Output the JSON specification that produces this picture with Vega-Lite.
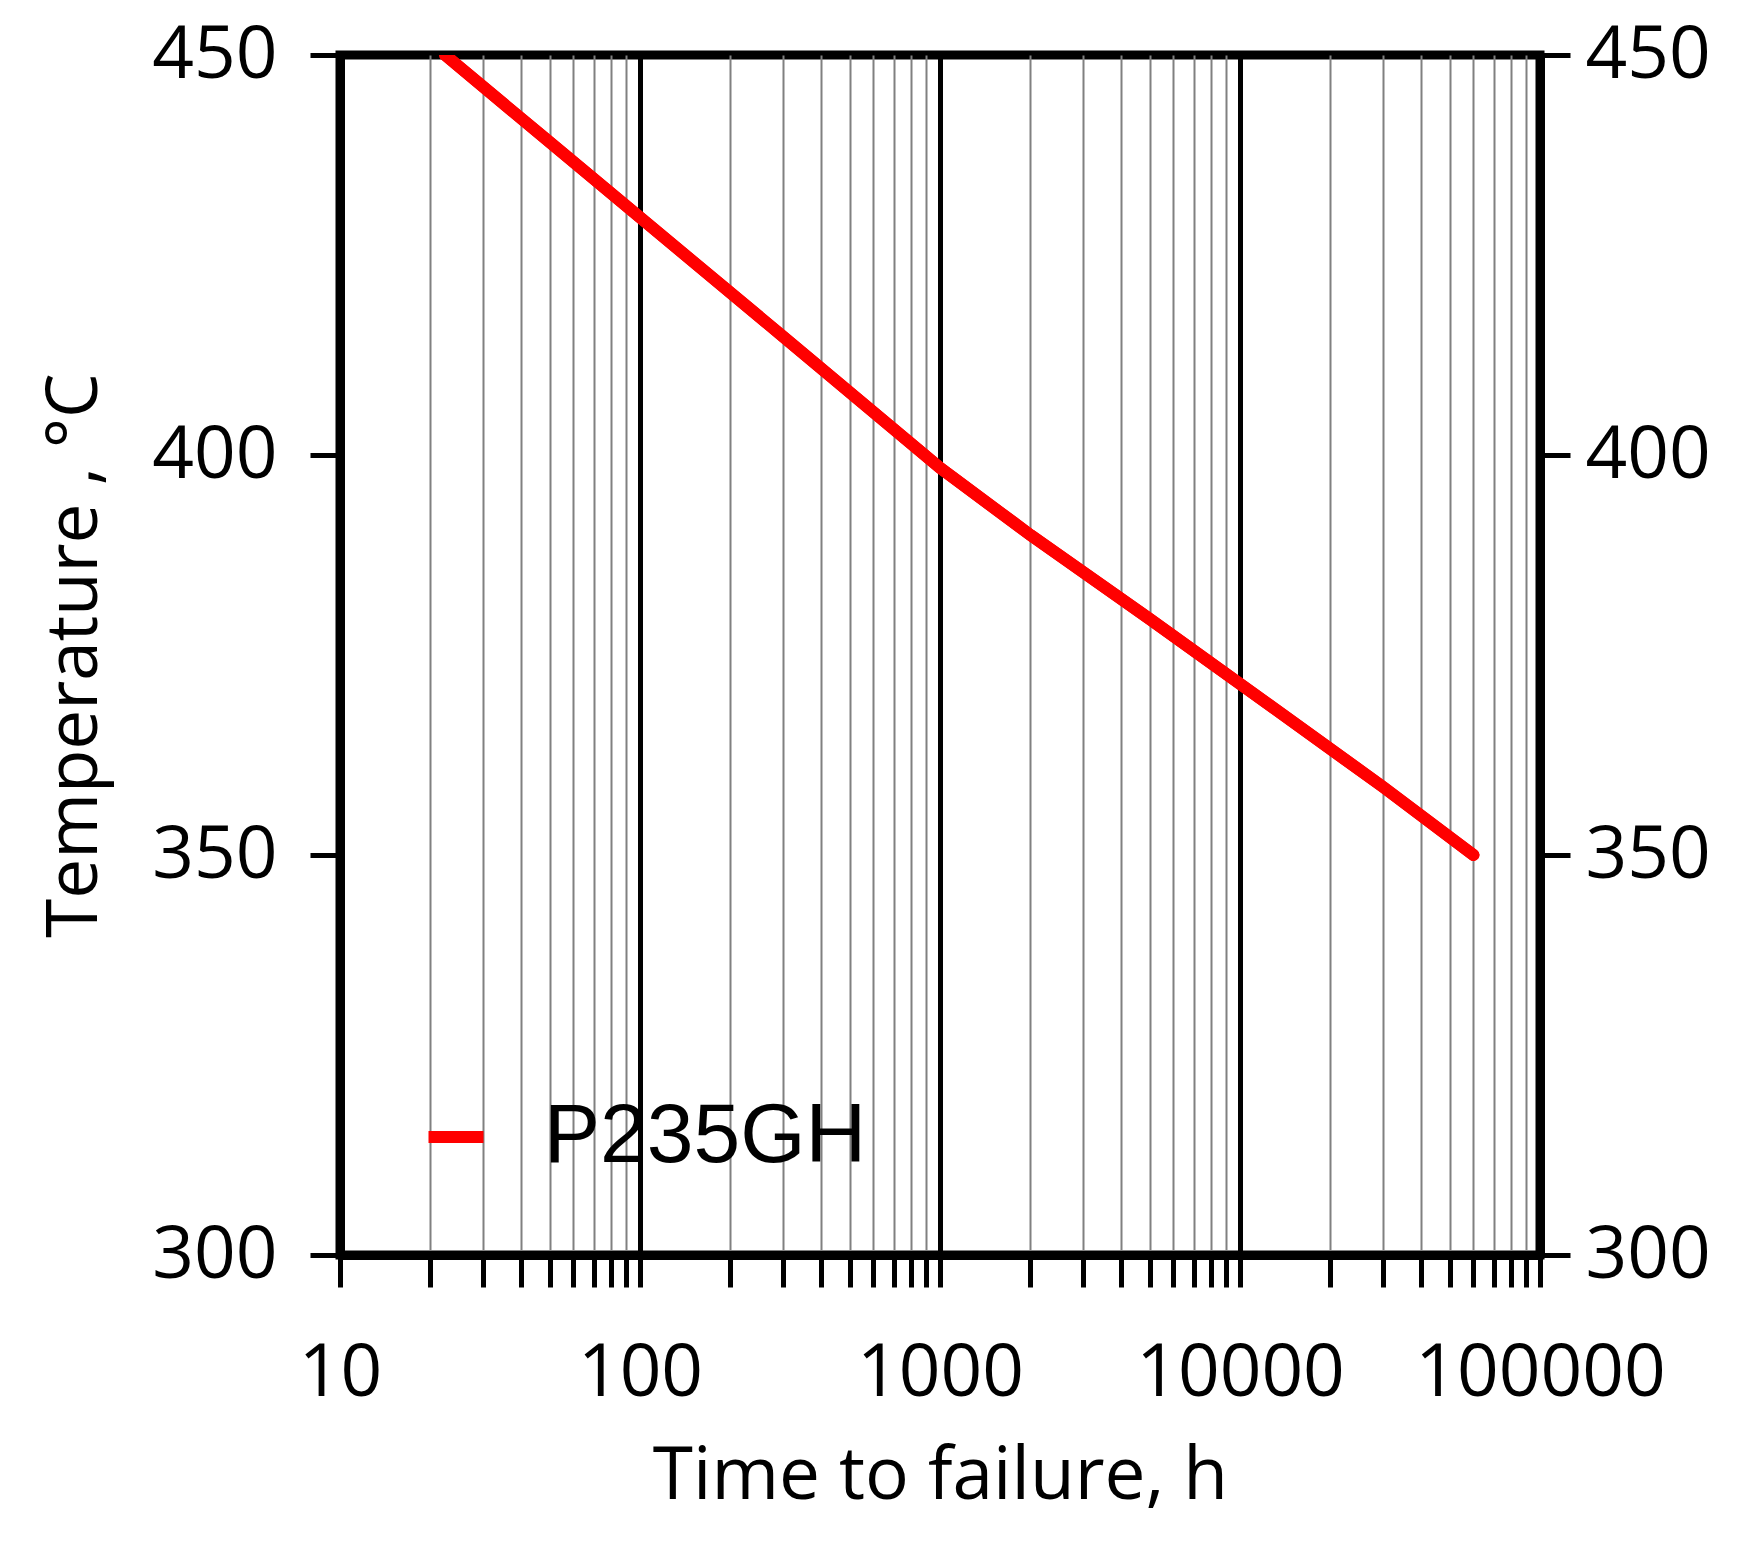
{
  "$schema": "https://vega.github.io/schema/vega-lite/v6.json",
  "width": 1200,
  "height": 1200,
  "autosize": {"type": "none"},
  "padding": {"left": 340, "top": 55, "right": 205, "bottom": 290},
  "background": "white",
  "config": {
    "view": {"stroke": "black", "strokeWidth": 9},
    "font": "Open Sans"
  },
  "data": {
    "values": [
      {"time": 22.4, "temp": 450, "series": "P235GH"},
      {"time": 50, "temp": 439.1, "series": "P235GH"},
      {"time": 100, "temp": 429.7, "series": "P235GH"},
      {"time": 300, "temp": 414.8, "series": "P235GH"},
      {"time": 1000, "temp": 398.4, "series": "P235GH"},
      {"time": 2000, "temp": 390.0, "series": "P235GH"},
      {"time": 5000, "temp": 379.5, "series": "P235GH"},
      {"time": 10000, "temp": 371.4, "series": "P235GH"},
      {"time": 30000, "temp": 358.5, "series": "P235GH"},
      {"time": 60000, "temp": 350, "series": "P235GH"}
    ]
  },
  "layer": [
    {
      "mark": {"type": "line", "strokeWidth": 12, "strokeCap": "round", "clip": true},
      "encoding": {
        "x": {
          "field": "time",
          "type": "quantitative",
          "scale": {"type": "log", "domain": [10, 100000]},
          "axis": {
            "title": "Time to failure, h",
            "values": [10, 20, 30, 40, 50, 60, 70, 80, 90, 100, 200, 300, 400, 500, 600, 700, 800, 900, 1000, 2000, 3000, 4000, 5000, 6000, 7000, 8000, 9000, 10000, 20000, 30000, 40000, 50000, 60000, 70000, 80000, 90000, 100000],
            "labelExpr": "indexof([10,100,1000,10000,100000], datum.value) >= 0 ? format(datum.value, 'd') : ''",
            "labelFlush": false,
            "labelOverlap": false,
            "labelLimit": 0,
            "grid": true,
            "gridColor": {"condition": {"test": "indexof([10,100,1000,10000,100000], datum.value) >= 0", "value": "black"}, "value": "#808080"},
            "gridWidth": {"condition": {"test": "indexof([10,100,1000,10000,100000], datum.value) >= 0", "value": 5}, "value": 2},
            "gridOpacity": 1,
            "domain": true,
            "domainColor": "black",
            "domainWidth": 9,
            "tickSize": 32,
            "tickWidth": 5,
            "tickColor": "black",
            "labelFontSize": 73,
            "labelColor": "black",
            "labelPadding": 50,
            "titleFontSize": 73,
            "titleFontWeight": "normal",
            "titleColor": "black",
            "titlePadding": 30
          }
        },
        "y": {
          "field": "temp",
          "type": "quantitative",
          "scale": {"domain": [300, 450], "nice": false, "zero": false},
          "axis": {
            "orient": "left",
            "title": "Temperature , °C",
            "values": [300, 350, 400, 450],
            "grid": false,
            "domain": true,
            "domainColor": "black",
            "domainWidth": 9,
            "tickSize": 30,
            "tickWidth": 5,
            "tickColor": "black",
            "labelFontSize": 73,
            "labelColor": "black",
            "labelPadding": 33,
            "titleFontSize": 71,
            "titleFontWeight": "normal",
            "titleColor": "black",
            "titlePadding": 40
          }
        },
        "color": {
          "field": "series",
          "type": "nominal",
          "scale": {"domain": ["P235GH"], "range": ["#ff0000"]},
          "legend": {
            "orient": "none",
            "legendX": 74,
            "legendY": 1040,
            "title": null,
            "padding": 0,
            "symbolType": "stroke",
            "symbolSize": 3025,
            "symbolStrokeWidth": 12,
            "labelFont": "Liberation Sans",
            "labelFontSize": 84,
            "labelColor": "black",
            "labelOffset": 46,
            "labelLimit": 0
          }
        }
      }
    },
    {
      "mark": {"type": "line", "strokeWidth": 12, "strokeCap": "round", "clip": true},
      "encoding": {
        "x": {"field": "time", "type": "quantitative", "scale": {"type": "log", "domain": [10, 100000]}},
        "y": {
          "field": "temp",
          "type": "quantitative",
          "scale": {"domain": [300, 450], "nice": false, "zero": false},
          "axis": {
            "orient": "right",
            "title": null,
            "values": [300, 350, 400, 450],
            "grid": false,
            "domain": true,
            "domainColor": "black",
            "domainWidth": 9,
            "tickSize": 30,
            "tickWidth": 5,
            "tickColor": "black",
            "labelFontSize": 73,
            "labelColor": "black",
            "labelPadding": 15
          }
        },
        "color": {"field": "series", "type": "nominal", "scale": {"domain": ["P235GH"], "range": ["#ff0000"]}, "legend": null}
      }
    }
  ],
  "resolve": {"axis": {"y": "independent"}}
}
